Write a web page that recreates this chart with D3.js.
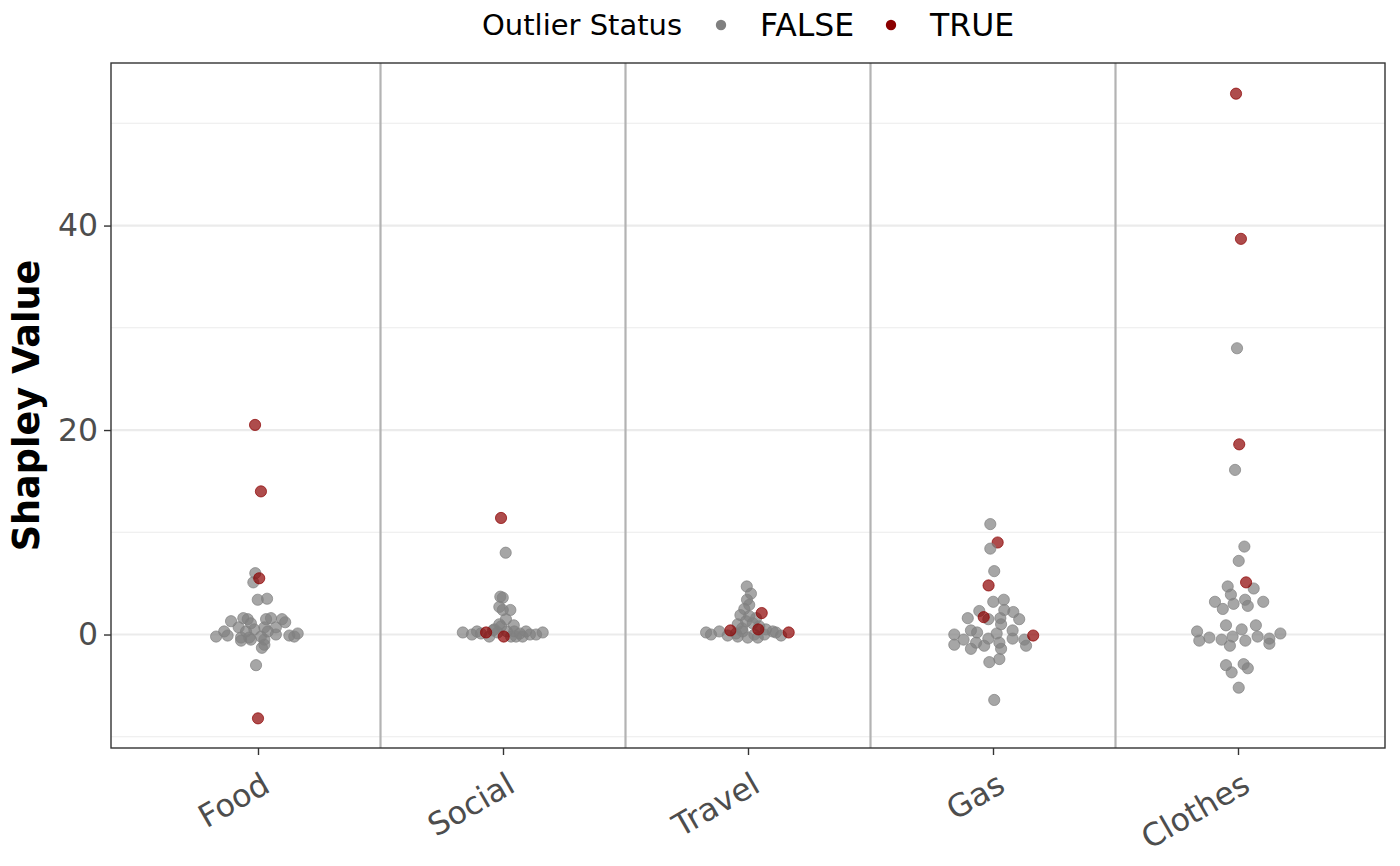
<!DOCTYPE html>
<html>
<head>
<meta charset="utf-8">
<script src="https://cdn.jsdelivr.net/npm/d3@7"></script>
<style>
  body { margin: 0; background: #fff; }
  svg { font-family: "DejaVu Sans", sans-serif; }
</style>
</head>
<body>
<svg id="chart" width="1400" height="866"></svg>
<script>
// 类别和刻度
const categories = ['Food', 'Social', 'Travel', 'Gas', 'Clothes'];
const yTicks = [0, 20, 40];
const yMinorTicks = [-10, 10, 30, 50];
const legendLabels = ['FALSE', 'TRUE'];

// 每个点: [Shapley 值, 抖动(类别单位), 是否离群]
const foodPoints = [
  [20.5, -0.012, 1], [14.0, 0.012, 1], [6.0, -0.011, 0], [5.1, -0.019, 0], [5.5, 0.005, 1],
  [3.4, -0.001, 0], [3.5, 0.037, 0], [1.3, -0.110, 0], [1.6, -0.060, 0], [1.5, -0.042, 0],
  [1.1, -0.029, 0], [1.5, 0.033, 0], [1.6, 0.053, 0], [1.5, 0.098, 0], [1.2, 0.111, 0],
  [0.7, -0.079, 0], [0.5, -0.015, 0], [0.7, 0.026, 0], [0.7, 0.073, 0], [0.3, -0.138, 0],
  [-0.2, -0.171, 0], [-0.1, -0.124, 0], [-0.3, -0.069, 0], [-0.3, -0.036, 0], [-0.2, 0.012, 0],
  [0.0, 0.073, 0], [-0.1, 0.128, 0], [-0.2, 0.148, 0], [0.1, 0.162, 0], [-0.6, -0.069, 0],
  [-0.5, -0.029, 0], [-0.5, 0.026, 0], [-1.0, 0.026, 0], [-1.3, 0.016, 0], [-3.0, -0.008, 0],
  [0.3, -0.049, 0], [0.3, 0.040, 0], [-8.2, 0.000, 1]
];
const socialPoints = [
  [11.4, -0.008, 1], [8.0, 0.011, 0], [3.7, -0.011, 0], [3.6, -0.001, 0], [2.7, -0.015, 0],
  [2.4, 0.030, 0], [2.4, -0.001, 0], [1.5, 0.012, 0], [1.0, -0.015, 0], [0.9, 0.044, 0],
  [0.8, -0.008, 0], [0.5, -0.036, 0], [0.2, -0.164, 0], [0.0, -0.127, 0], [0.3, -0.106, 0],
  [0.1, -0.090, 0], [-0.2, -0.056, 0], [0.4, -0.041, 0], [0.2, -0.022, 0], [0.3, 0.016, 0],
  [-0.2, 0.033, 0], [0.3, 0.046, 0], [-0.2, 0.053, 0], [0.1, 0.069, 0], [-0.2, 0.080, 0],
  [0.3, 0.094, 0], [0.0, 0.110, 0], [0.0, 0.135, 0], [0.2, 0.162, 0],
  [0.2, -0.069, 1], [-0.2, 0.003, 1]
];
const travelPoints = [
  [4.7, -0.005, 0], [4.0, 0.012, 0], [3.4, -0.004, 0], [2.9, 0.005, 0], [2.5, -0.015, 0],
  [1.9, -0.031, 0], [1.8, 0.005, 0], [1.6, 0.033, 0], [1.3, -0.008, 0], [1.0, -0.042, 0],
  [1.1, 0.019, 0], [0.8, 0.046, 0], [0.2, -0.171, 0], [0.3, -0.117, 0], [-0.1, -0.083, 0],
  [0.1, -0.049, 0], [0.3, -0.022, 0], [-0.3, -0.001, 0], [0.0, 0.026, 0], [0.0, 0.067, 0],
  [0.3, 0.101, 0], [-0.1, 0.135, 0], [0.0, -0.151, 0], [-0.2, -0.042, 0], [-0.3, 0.040, 0],
  [0.5, 0.073, 0], [0.6, -0.024, 0], [0.2, 0.114, 0],
  [2.1, 0.056, 1], [0.5, 0.042, 1], [0.4, -0.072, 1], [0.2, 0.166, 1]
];
const gasPoints = [
  [10.8, -0.011, 0], [9.0, 0.019, 1], [8.4, -0.011, 0], [6.2, 0.005, 0], [4.8, -0.018, 1],
  [3.2, 0.001, 0], [3.4, 0.044, 0], [2.4, 0.046, 0], [2.2, 0.083, 0], [2.3, -0.056, 0],
  [1.6, -0.103, 0], [1.5, -0.019, 0], [1.6, 0.030, 0], [1.5, 0.107, 0], [1.0, 0.033, 0],
  [0.4, -0.090, 0], [0.2, -0.065, 0], [0.4, 0.080, 0], [0.0, -0.158, 0], [0.1, 0.015, 0],
  [-0.5, -0.120, 0], [-0.4, -0.019, 0], [-0.4, 0.080, 0], [-0.5, 0.128, 0], [-1.0, -0.158, 0],
  [-0.8, -0.069, 0], [-1.1, -0.036, 0], [-0.8, 0.026, 0], [-1.4, 0.033, 0], [-1.1, 0.135, 0],
  [-1.4, -0.090, 0], [-2.4, 0.026, 0], [-2.7, -0.015, 0], [-6.4, 0.005, 0],
  [1.7, -0.038, 1], [-0.1, 0.164, 1]
];
const clothesPoints = [
  [52.9, -0.008, 1], [38.7, 0.012, 1], [28.0, -0.004, 0], [18.6, 0.005, 1], [16.1, -0.012, 0],
  [8.6, 0.026, 0], [7.2, 0.003, 0], [4.7, -0.042, 0], [4.5, 0.064, 0], [3.9, -0.029, 0],
  [3.2, -0.094, 0], [3.4, 0.029, 0], [3.0, -0.018, 0], [2.8, 0.040, 0], [3.2, 0.103, 0],
  [2.5, -0.062, 0], [0.9, -0.049, 0], [0.9, 0.073, 0], [0.5, 0.015, 0], [0.3, -0.167, 0],
  [-0.3, -0.117, 0], [-0.6, -0.158, 0], [-0.5, -0.067, 0], [-0.2, -0.022, 0], [-0.6, 0.030, 0],
  [-0.2, 0.080, 0], [-0.4, 0.128, 0], [-0.9, 0.128, 0], [0.1, 0.173, 0], [-1.1, -0.033, 0],
  [-3.0, -0.049, 0], [-3.7, -0.026, 0], [-2.9, 0.023, 0], [-3.3, 0.040, 0], [-5.2, 0.003, 0],
  [5.1, 0.033, 1]
];
const pointsByCategory = [foodPoints, socialPoints, travelPoints, gasPoints, clothesPoints];

const colors = { 0: '#808080', 1: '#8B0000' };

const margin = { top: 63, right: 15, bottom: 118, left: 111 };
const width = 1400 - margin.left - margin.right;
const height = 866 - margin.top - margin.bottom;

const svg = d3.select('#chart');
const g = svg.append('g').attr('transform', `translate(${margin.left},${margin.top})`);

// 离散轴按 ggplot 的 0.6 扩展
const x = d3.scaleLinear().domain([0.4, categories.length + 0.6]).range([0, width]);
const y = d3.scaleLinear().domain([-11.1, 55.9]).range([height, 0]);

// 网格线
g.selectAll('.minor').data(yMinorTicks).enter().append('line')
  .attr('x1', 0).attr('x2', width)
  .attr('y1', d => y(d)).attr('y2', d => y(d))
  .attr('stroke', '#EBEBEB').attr('stroke-width', 1.1);
g.selectAll('.major').data(yTicks).enter().append('line')
  .attr('x1', 0).attr('x2', width)
  .attr('y1', d => y(d)).attr('y2', d => y(d))
  .attr('stroke', '#EBEBEB').attr('stroke-width', 2.2);

// 类别分隔线
g.selectAll('.sep').data(d3.range(1, categories.length)).enter().append('line')
  .attr('x1', d => x(d + 0.5)).attr('x2', d => x(d + 0.5))
  .attr('y1', 0).attr('y2', height)
  .attr('stroke', '#B3B3B3').attr('stroke-width', 2.2);

// 点
const flat = [];
pointsByCategory.forEach((arr, i) => {
  arr.forEach(p => flat.push({ cat: i + 1, value: p[0], jitter: p[1], outlier: p[2] }));
});
g.selectAll('.pt').data(flat).enter().append('circle')
  .attr('cx', d => x(d.cat + d.jitter))
  .attr('cy', d => y(d.value))
  .attr('r', 5.6)
  .attr('fill', d => colors[d.outlier])
  .attr('fill-opacity', 0.7)
  .attr('stroke', d => colors[d.outlier])
  .attr('stroke-opacity', 0.7)
  .attr('stroke-width', 1);

// 边框
g.append('rect')
  .attr('width', width).attr('height', height)
  .attr('fill', 'none').attr('stroke', '#333333').attr('stroke-width', 1.4);

// y 轴
const yAxis = g.append('g')
  .call(d3.axisLeft(y).tickValues(yTicks).tickSize(7).tickPadding(6));
yAxis.select('.domain').remove();
yAxis.selectAll('.tick line').attr('stroke', '#333333').attr('stroke-width', 1.4);
yAxis.selectAll('.tick text')
  .attr('fill', '#4D4D4D').style('font-size', '31.5px').style('font-family', '"DejaVu Sans"');

// x 轴
const xAxis = g.append('g').attr('transform', `translate(0,${height})`)
  .call(d3.axisBottom(x).tickValues(d3.range(1, categories.length + 1))
    .tickFormat(d => categories[d - 1]).tickSize(7));
xAxis.select('.domain').remove();
xAxis.selectAll('.tick line').attr('stroke', '#333333').attr('stroke-width', 1.4);
xAxis.selectAll('.tick text')
  .attr('fill', '#4D4D4D').style('font-size', '31.5px').style('font-family', '"DejaVu Sans"')
  .attr('text-anchor', 'end')
  .attr('x', null).attr('y', null).attr('dy', '0.72em')
  .attr('transform', 'translate(2,23) rotate(-30)');

// y 轴标题
svg.append('text')
  .attr('transform', `translate(39,${margin.top + height / 2}) rotate(-90)`)
  .attr('text-anchor', 'middle')
  .style('font-size', '36.6px').style('font-weight', 'bold')
  .text('Shapley Value');

// 图例
const legend = svg.append('g').attr('transform', 'translate(0,25)');
legend.append('text').attr('x', 482).attr('dy', '0.36em')
  .style('font-size', '29px').text('Outlier Status');
const legendX = [721, 891];
legendLabels.forEach((lab, i) => {
  legend.append('circle').attr('cx', legendX[i]).attr('cy', 0).attr('r', 5.2)
    .attr('fill', colors[i]);
  legend.append('text').attr('x', legendX[i] + 39).attr('dy', '0.36em')
    .style('font-size', '31.5px').text(lab);
});
</script>
</body>
</html>
